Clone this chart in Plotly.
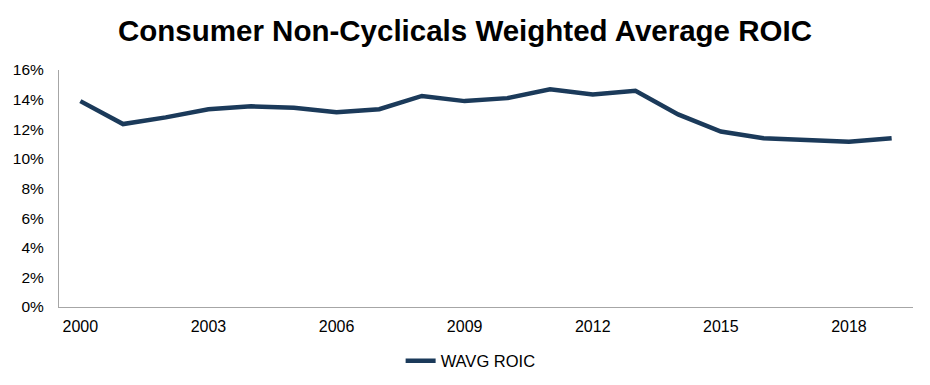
import plotly.graph_objects as go

years = list(range(2000, 2020))
roic = [13.9, 12.35, 12.8, 13.35, 13.55, 13.45, 13.15, 13.35, 14.25, 13.9,
        14.1, 14.7, 14.35, 14.6, 13.0, 11.85, 11.4, 11.3, 11.15, 11.4]
series_name = "WAVG ROIC"
title_text = "Consumer Non-Cyclicals Weighted Average ROIC"
x_ticks = [2000, 2003, 2006, 2009, 2012, 2015, 2018]
y_ticks = [0, 2, 4, 6, 8, 10, 12, 14, 16]

fig = go.Figure()
fig.add_trace(go.Scatter(
    x=years, y=roic, mode="lines", name=series_name,
    line=dict(color="#1b3a5a", width=4.5),
))

font_family = "Arial, Liberation Sans, sans-serif"
fig.update_layout(
    width=930, height=385,
    margin=dict(l=59, r=17, t=70, b=78, autoexpand=False),
    paper_bgcolor="white", plot_bgcolor="white",
    title=dict(text="<b>" + title_text + "</b>", x=0.5, xanchor="center",
               y=1 - 31 / 385, yanchor="middle",
               font=dict(family=font_family, size=29.5, color="black")),
    showlegend=True,
    legend=dict(orientation="h", x=0.482, xanchor="center",
                y=-54 / 237, yanchor="middle",
                font=dict(family=font_family, size=16.5, color="black")),
    font=dict(family=font_family, size=16, color="black"),
)
fig.update_xaxes(
    range=[1999.5, 2019.5], tickmode="array", tickvals=x_ticks,
    ticktext=[str(v) for v in x_ticks],
    showgrid=False, zeroline=False, showline=True, linecolor="#a6a6a6", linewidth=1,
    ticks="outside", ticklen=5, tickcolor="rgba(0,0,0,0)",
    tickfont=dict(size=16, color="black"),
)
fig.update_yaxes(
    range=[0, 16], tickmode="array", tickvals=y_ticks,
    ticktext=[f"{v}%" for v in y_ticks],
    showgrid=False, zeroline=False, showline=True, linecolor="#a6a6a6", linewidth=1,
    ticks="outside", ticklen=11, tickcolor="rgba(0,0,0,0)",
    tickfont=dict(size=15.5, color="black"),
)
fig.write_html("out.html", config={"displayModeBar": False},
               post_script="document.body.style.margin='0';document.body.style.padding='0';")
